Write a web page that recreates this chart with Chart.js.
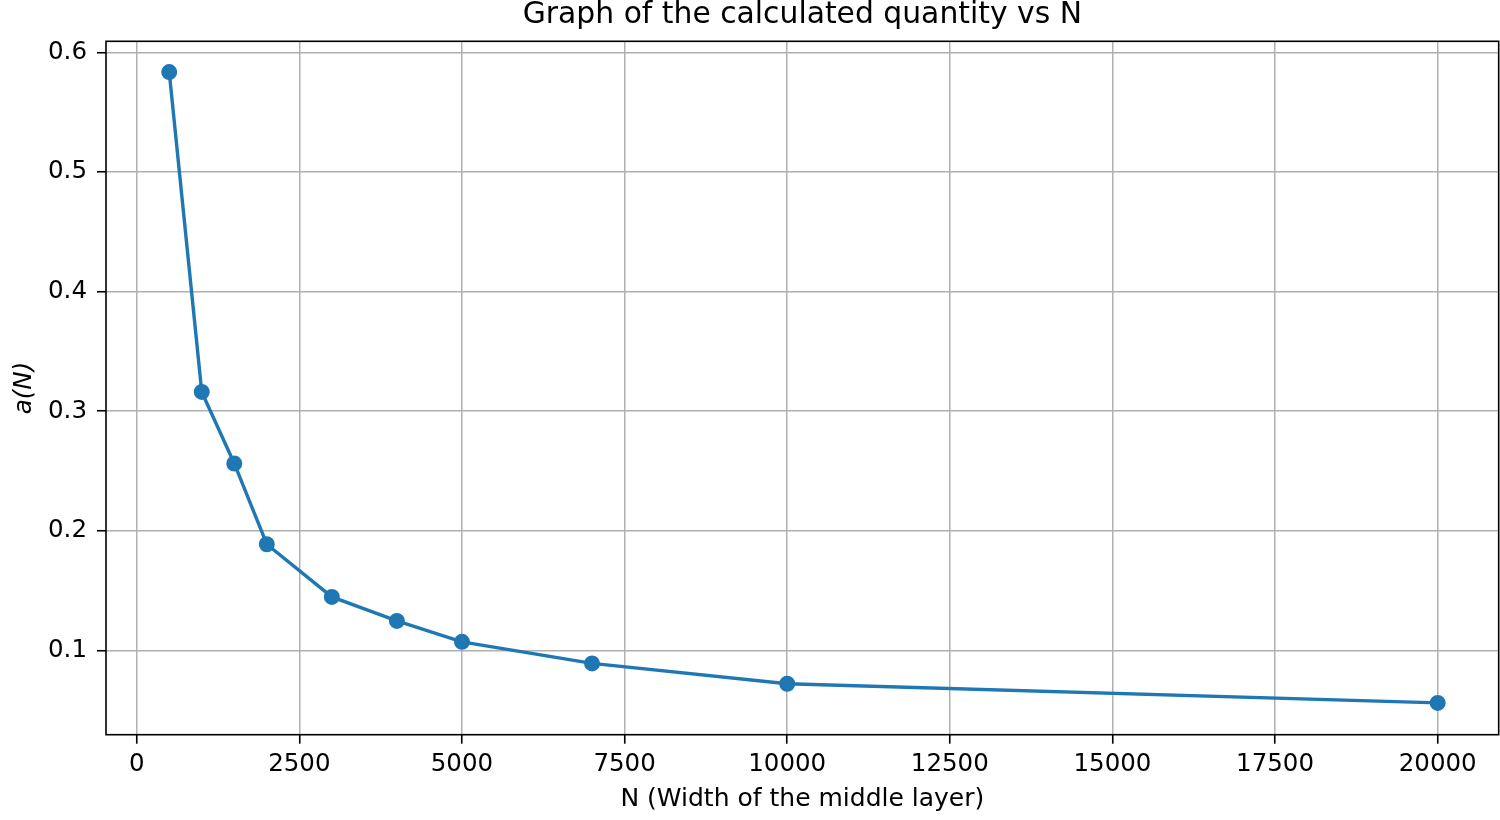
<!DOCTYPE html>
<html>
<head>
<meta charset="utf-8">
<script src="https://cdn.jsdelivr.net/npm/chart.js@4"></script>
<style>
  html, body { margin: 0; padding: 0; background: #ffffff; }
  #wrap { width: 1500px; height: 820px; }
</style>
</head>
<body>
<div id="wrap"><canvas id="c" width="1500" height="820" style="width:1500px;height:820px"></canvas></div>
<script>
// ---- data ----
const chartTitle = 'Graph of the calculated quantity vs N';
const xLabel = 'N (Width of the middle layer)';
const yLabel = 'a(N)';
const nValues = [500, 1000, 1500, 2000, 3000, 4000, 5000, 7000, 10000, 20000];
const aValues = [0.5835, 0.3161, 0.2563, 0.1888, 0.1448, 0.1247, 0.1072, 0.0892, 0.0722, 0.0562];
const xTicks = [0, 2500, 5000, 7500, 10000, 12500, 15000, 17500, 20000];
const yTicks = [0.1, 0.2, 0.3, 0.4, 0.5, 0.6];

// ---- styling ----
const FONT = 'DejaVu Sans';
const LINE_COLOR = '#1f77b4';
const GRID_COLOR = '#b0b0b0';

const spines = {
  id: 'spines',
  afterDatasetsDraw(chart) {
    const { ctx, chartArea: { left, right, top, bottom } } = chart;
    ctx.save();
    ctx.strokeStyle = '#000000';
    ctx.lineWidth = 1.6;
    ctx.strokeRect(left, top, right - left, bottom - top);
    ctx.restore();
  }
};

const points = nValues.map((n, i) => ({ x: n, y: aValues[i] }));

new Chart(document.getElementById('c'), {
  type: 'line',
  data: {
    datasets: [{
      data: points,
      borderColor: LINE_COLOR,
      backgroundColor: LINE_COLOR,
      borderWidth: 3.4,
      pointRadius: 7,
      pointHoverRadius: 7,
      pointBorderWidth: 2,
      pointBackgroundColor: LINE_COLOR,
      pointBorderColor: LINE_COLOR,
      tension: 0,
      fill: false
    }]
  },
  options: {
    responsive: false,
    devicePixelRatio: 1,
    animation: false,
    events: [],
    layout: { autoPadding: false, padding: { left: 0, right: 1.3, top: 0, bottom: 0 } },
    plugins: {
      legend: { display: false },
      tooltip: { enabled: false },
      title: {
        display: true,
        text: chartTitle,
        fullSize: false,
        color: '#000000',
        font: { family: FONT, size: 29.8, weight: 'normal', lineHeight: 1 },
        padding: { top: 0.6, bottom: 10.9 }
      }
    },
    scales: {
      x: {
        type: 'linear',
        min: -472,
        max: 20938,
        afterBuildTicks: s => { s.ticks = xTicks.map(v => ({ value: v })); },
        afterFit: s => { s.height = 85.3; s.paddingLeft = 0; s.paddingRight = 0; },
        grid: { color: GRID_COLOR, lineWidth: 1.5, drawTicks: true, tickLength: 9, tickColor: '#000000', tickWidth: 1.6 },
        border: { display: false },
        ticks: {
          font: { family: FONT, size: 24.5 },
          color: '#000000',
          padding: 6,
          maxRotation: 0,
          autoSkip: false,
          callback: v => String(v)
        },
        title: {
          display: true,
          text: xLabel,
          color: '#000000',
          font: { family: FONT, size: 25, lineHeight: 1 },
          padding: { top: 0, bottom: 8 }
        }
      },
      y: {
        type: 'linear',
        min: 0.0296,
        max: 0.6092,
        afterBuildTicks: s => { s.ticks = yTicks.map(v => ({ value: v })); },
        afterFit: s => { s.width = 106; s.paddingTop = 0; s.paddingBottom = 0; },
        grid: { color: GRID_COLOR, lineWidth: 1.5, drawTicks: true, tickLength: 9, tickColor: '#000000', tickWidth: 1.6 },
        border: { display: false },
        ticks: {
          font: { family: FONT, size: 24.5 },
          color: '#000000',
          padding: 10,
          autoSkip: false,
          callback: v => v.toFixed(1)
        },
        title: {
          display: true,
          text: yLabel,
          color: '#000000',
          font: { family: FONT, size: 24.5, style: 'italic', lineHeight: 1 },
          padding: { top: 12, bottom: 0 }
        }
      }
    }
  },
  plugins: [spines]
});
</script>
</body>
</html>
